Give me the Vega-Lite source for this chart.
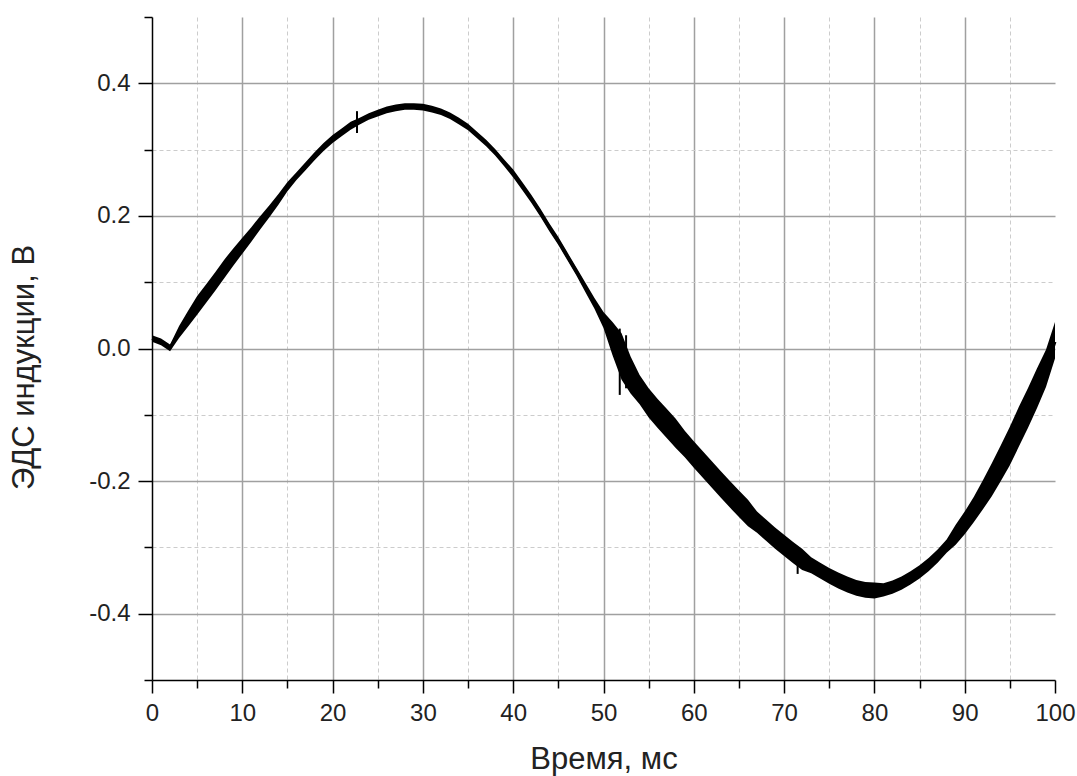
{
  "$schema": "https://vega.github.io/schema/vega-lite/v6.json",
  "width": 903,
  "height": 663,
  "autosize": "none",
  "padding": {"left": 152, "top": 17, "right": 22, "bottom": 96},
  "background": "white",
  "config": {
    "view": {"stroke": null},
    "font": "Liberation Sans",
    "axis": {
      "labelFont": "Liberation Sans",
      "titleFont": "Liberation Sans",
      "labelColor": "#222",
      "titleColor": "#222",
      "domainColor": "black",
      "domainWidth": 1.5,
      "tickColor": "black",
      "tickWidth": 1.5
    }
  },
  "resolve": {"axis": {"x": "independent", "y": "independent"}},
  "datasets": {
    "curve": [
      {"t": 0, "v": 0.015, "lo": 0.010, "hi": 0.020},
      {"t": 1, "v": 0.010, "lo": 0.005, "hi": 0.015},
      {"t": 2, "v": 0.001, "lo": -0.004, "hi": 0.006},
      {"t": 3, "v": 0.025, "lo": 0.016, "hi": 0.034},
      {"t": 4, "v": 0.045, "lo": 0.033, "hi": 0.057},
      {"t": 5, "v": 0.065, "lo": 0.051, "hi": 0.079},
      {"t": 6, "v": 0.083, "lo": 0.069, "hi": 0.097},
      {"t": 7, "v": 0.101, "lo": 0.087, "hi": 0.115},
      {"t": 8, "v": 0.120, "lo": 0.106, "hi": 0.134},
      {"t": 9, "v": 0.138, "lo": 0.125, "hi": 0.151},
      {"t": 10, "v": 0.155, "lo": 0.143, "hi": 0.167},
      {"t": 11, "v": 0.172, "lo": 0.161, "hi": 0.183},
      {"t": 12, "v": 0.190, "lo": 0.180, "hi": 0.200},
      {"t": 13, "v": 0.207, "lo": 0.198, "hi": 0.216},
      {"t": 14, "v": 0.225, "lo": 0.217, "hi": 0.233},
      {"t": 15, "v": 0.244, "lo": 0.237, "hi": 0.251},
      {"t": 16, "v": 0.260, "lo": 0.254, "hi": 0.266},
      {"t": 17, "v": 0.275, "lo": 0.269, "hi": 0.281},
      {"t": 18, "v": 0.290, "lo": 0.284, "hi": 0.296},
      {"t": 19, "v": 0.304, "lo": 0.298, "hi": 0.310},
      {"t": 20, "v": 0.316, "lo": 0.310, "hi": 0.322},
      {"t": 21, "v": 0.326, "lo": 0.320, "hi": 0.332},
      {"t": 22, "v": 0.336, "lo": 0.330, "hi": 0.342},
      {"t": 23, "v": 0.343, "lo": 0.338, "hi": 0.348},
      {"t": 24, "v": 0.350, "lo": 0.345, "hi": 0.355},
      {"t": 25, "v": 0.355, "lo": 0.350, "hi": 0.360},
      {"t": 26, "v": 0.360, "lo": 0.355, "hi": 0.365},
      {"t": 27, "v": 0.363, "lo": 0.358, "hi": 0.368},
      {"t": 28, "v": 0.365, "lo": 0.360, "hi": 0.370},
      {"t": 29, "v": 0.365, "lo": 0.360, "hi": 0.370},
      {"t": 30, "v": 0.364, "lo": 0.359, "hi": 0.369},
      {"t": 31, "v": 0.361, "lo": 0.356, "hi": 0.366},
      {"t": 32, "v": 0.357, "lo": 0.352, "hi": 0.362},
      {"t": 33, "v": 0.351, "lo": 0.346, "hi": 0.356},
      {"t": 34, "v": 0.343, "lo": 0.338, "hi": 0.348},
      {"t": 35, "v": 0.334, "lo": 0.329, "hi": 0.339},
      {"t": 36, "v": 0.322, "lo": 0.317, "hi": 0.327},
      {"t": 37, "v": 0.310, "lo": 0.305, "hi": 0.315},
      {"t": 38, "v": 0.296, "lo": 0.291, "hi": 0.301},
      {"t": 39, "v": 0.280, "lo": 0.275, "hi": 0.285},
      {"t": 40, "v": 0.264, "lo": 0.258, "hi": 0.270},
      {"t": 41, "v": 0.245, "lo": 0.239, "hi": 0.251},
      {"t": 42, "v": 0.226, "lo": 0.220, "hi": 0.232},
      {"t": 43, "v": 0.205, "lo": 0.199, "hi": 0.211},
      {"t": 44, "v": 0.183, "lo": 0.177, "hi": 0.189},
      {"t": 45, "v": 0.162, "lo": 0.156, "hi": 0.168},
      {"t": 46, "v": 0.139, "lo": 0.133, "hi": 0.145},
      {"t": 47, "v": 0.116, "lo": 0.110, "hi": 0.122},
      {"t": 48, "v": 0.092, "lo": 0.085, "hi": 0.099},
      {"t": 49, "v": 0.068, "lo": 0.060, "hi": 0.076},
      {"t": 50, "v": 0.043, "lo": 0.031, "hi": 0.055},
      {"t": 51, "v": 0.015, "lo": -0.010, "hi": 0.040},
      {"t": 52, "v": -0.012, "lo": -0.047, "hi": 0.023},
      {"t": 53, "v": -0.040, "lo": -0.068, "hi": -0.012},
      {"t": 54, "v": -0.062, "lo": -0.084, "hi": -0.040},
      {"t": 55, "v": -0.082, "lo": -0.104, "hi": -0.060},
      {"t": 56, "v": -0.098, "lo": -0.120, "hi": -0.076},
      {"t": 57, "v": -0.113, "lo": -0.135, "hi": -0.091},
      {"t": 58, "v": -0.128, "lo": -0.150, "hi": -0.106},
      {"t": 59, "v": -0.144, "lo": -0.164, "hi": -0.124},
      {"t": 60, "v": -0.160, "lo": -0.180, "hi": -0.140},
      {"t": 61, "v": -0.175, "lo": -0.195, "hi": -0.155},
      {"t": 62, "v": -0.190, "lo": -0.210, "hi": -0.170},
      {"t": 63, "v": -0.205, "lo": -0.225, "hi": -0.185},
      {"t": 64, "v": -0.220, "lo": -0.240, "hi": -0.200},
      {"t": 65, "v": -0.234, "lo": -0.254, "hi": -0.214},
      {"t": 66, "v": -0.248, "lo": -0.268, "hi": -0.228},
      {"t": 67, "v": -0.262, "lo": -0.278, "hi": -0.246},
      {"t": 68, "v": -0.274, "lo": -0.290, "hi": -0.258},
      {"t": 69, "v": -0.286, "lo": -0.302, "hi": -0.270},
      {"t": 70, "v": -0.297, "lo": -0.313, "hi": -0.281},
      {"t": 71, "v": -0.308, "lo": -0.324, "hi": -0.292},
      {"t": 72, "v": -0.318, "lo": -0.334, "hi": -0.302},
      {"t": 73, "v": -0.327, "lo": -0.339, "hi": -0.315},
      {"t": 74, "v": -0.335, "lo": -0.347, "hi": -0.323},
      {"t": 75, "v": -0.343, "lo": -0.355, "hi": -0.331},
      {"t": 76, "v": -0.350, "lo": -0.362, "hi": -0.338},
      {"t": 77, "v": -0.356, "lo": -0.368, "hi": -0.344},
      {"t": 78, "v": -0.361, "lo": -0.373, "hi": -0.349},
      {"t": 79, "v": -0.364, "lo": -0.376, "hi": -0.352},
      {"t": 80, "v": -0.365, "lo": -0.377, "hi": -0.353},
      {"t": 81, "v": -0.364, "lo": -0.374, "hi": -0.354},
      {"t": 82, "v": -0.360, "lo": -0.370, "hi": -0.350},
      {"t": 83, "v": -0.354, "lo": -0.364, "hi": -0.344},
      {"t": 84, "v": -0.346, "lo": -0.356, "hi": -0.336},
      {"t": 85, "v": -0.337, "lo": -0.347, "hi": -0.327},
      {"t": 86, "v": -0.326, "lo": -0.336, "hi": -0.316},
      {"t": 87, "v": -0.313, "lo": -0.323, "hi": -0.303},
      {"t": 88, "v": -0.298, "lo": -0.308, "hi": -0.288},
      {"t": 89, "v": -0.281, "lo": -0.296, "hi": -0.266},
      {"t": 90, "v": -0.263, "lo": -0.280, "hi": -0.246},
      {"t": 91, "v": -0.243, "lo": -0.262, "hi": -0.224},
      {"t": 92, "v": -0.221, "lo": -0.243, "hi": -0.199},
      {"t": 93, "v": -0.198, "lo": -0.223, "hi": -0.173},
      {"t": 94, "v": -0.173, "lo": -0.200, "hi": -0.146},
      {"t": 95, "v": -0.147, "lo": -0.176, "hi": -0.118},
      {"t": 96, "v": -0.118, "lo": -0.148, "hi": -0.088},
      {"t": 97, "v": -0.090, "lo": -0.120, "hi": -0.060},
      {"t": 98, "v": -0.060, "lo": -0.090, "hi": -0.030},
      {"t": 99, "v": -0.030, "lo": -0.058, "hi": -0.002},
      {"t": 100, "v": 0.010, "lo": -0.015, "hi": 0.040}
    ],
    "spikes": [
      {"t": 22.7, "a": 0.325, "b": 0.358},
      {"t": 51.8, "a": -0.070, "b": 0.030},
      {"t": 52.5, "a": -0.060, "b": 0.020},
      {"t": 71.5, "a": -0.340, "b": -0.305}
    ]
  },
  "layer": [
    {
      "data": {"name": "curve"},
      "mark": {"type": "area", "color": "black", "opacity": 1},
      "encoding": {
        "x": {
          "field": "t", "type": "quantitative",
          "scale": {"domain": [0, 100], "nice": false, "zero": false},
          "axis": {
            "orient": "bottom",
            "title": "Время, мс",
            "values": [0, 10, 20, 30, 40, 50, 60, 70, 80, 90, 100],
            "format": "d",
            "labelFontSize": 24,
            "labelPadding": 8,
            "labelFlush": false,
            "labelOverlap": false,
            "tickSize": 13,
            "grid": false,
            "titleFontSize": 31,
            "titleFontWeight": "normal",
            "titleBaseline": "alphabetic",
            "titleY": 88
          }
        },
        "y": {
          "field": "lo", "type": "quantitative",
          "scale": {"domain": [-0.5, 0.5], "nice": false, "zero": false},
          "axis": {
            "orient": "left",
            "title": "ЭДС индукции, В",
            "values": [-0.4, -0.2, 0, 0.2, 0.4],
            "labelExpr": "(datum.value < -0.01 ? '-' : '') + format(abs(datum.value), '.1f')",
            "labelFontSize": 24,
            "labelPadding": 8,
            "labelFlush": false,
            "labelOverlap": false,
            "tickSize": 14,
            "grid": true,
            "gridColor": "#a0a0a0",
            "gridWidth": 1.5,
            "titleFontSize": 31,
            "titleFontWeight": "normal",
            "titleAngle": -90,
            "titleBaseline": "alphabetic",
            "titleX": -119,
            "titleY": 350
          }
        },
        "y2": {"field": "hi"}
      }
    },
    {
      "data": {"name": "curve"},
      "mark": {"type": "line", "color": "black", "strokeWidth": 3},
      "encoding": {
        "x": {
          "field": "t", "type": "quantitative",
          "axis": {
            "orient": "bottom",
            "title": null,
            "values": [10, 20, 30, 40, 50, 60, 70, 80, 90],
            "labels": false,
            "ticks": false,
            "domain": false,
            "grid": true,
            "gridColor": "#a0a0a0",
            "gridWidth": 1.5
          }
        },
        "y": {
          "field": "v", "type": "quantitative",
          "axis": {
            "orient": "left",
            "title": null,
            "values": [-0.5, -0.3, -0.1, 0.1, 0.3, 0.5],
            "labels": false,
            "domain": false,
            "grid": false,
            "tickSize": 8
          }
        }
      }
    },
    {
      "data": {"name": "spikes"},
      "mark": {"type": "rule", "color": "black", "strokeWidth": 2},
      "encoding": {
        "x": {
          "field": "t", "type": "quantitative",
          "axis": {
            "orient": "bottom",
            "title": null,
            "values": [5, 15, 25, 35, 45, 55, 65, 75, 85, 95],
            "labels": false,
            "domain": false,
            "tickSize": 8,
            "grid": true,
            "gridColor": "#cccccc",
            "gridWidth": 1,
            "gridDash": [4, 3]
          }
        },
        "y": {
          "field": "a", "type": "quantitative",
          "axis": {
            "orient": "left",
            "title": null,
            "values": [-0.3, -0.1, 0.1, 0.3],
            "labels": false,
            "domain": false,
            "ticks": false,
            "grid": true,
            "gridColor": "#cccccc",
            "gridWidth": 1,
            "gridDash": [4, 3]
          }
        },
        "y2": {"field": "b"}
      }
    }
  ]
}
